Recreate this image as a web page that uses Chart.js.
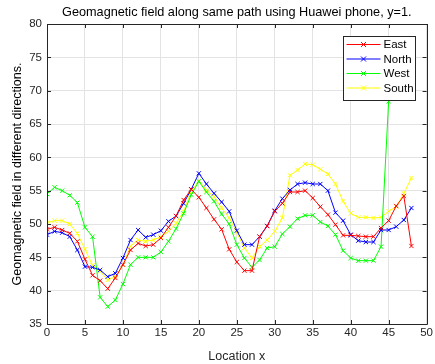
<!DOCTYPE html>
<html>
<head>
<meta charset="utf-8">
<script src="https://cdn.jsdelivr.net/npm/chart.js@4/dist/chart.umd.min.js"></script>
<style>
  html, body { margin: 0; padding: 0; background: #fff; }
  #wrap { width: 435px; height: 364px; }
</style>
</head>
<body>
<div id="wrap"><canvas id="chart" width="435" height="364"></canvas></div>
<script>
const locations = [0,1,2,3,4,5,6,7,8,9,10,11,12,13,14,15,16,17,18,19,20,21,22,23,24,25,26,27,28,29,30,31,32,33,34,35,36,37,38,39,40,41,42,43,44,45,46,47,48];

const east = [49.2,49.5,49.1,48.6,47.4,44.7,42.3,41.5,40.3,41.9,
              43.9,46.1,47.1,46.7,46.9,47.9,49.5,51.2,53.6,55.2,
              54.0,52.4,50.7,49.2,46.2,44.3,43.0,43.0,48.1,49.7,
              51.9,53.1,54.8,54.8,55.0,53.9,52.6,51.4,49.9,48.3,
              48.3,48.2,48.1,48.1,49.4,50.5,52.7,54.2,46.7];
const north = [48.4,48.9,48.7,48.1,46.1,43.6,43.5,43.1,42.1,42.6,
               44.9,47.6,49.1,48.0,48.4,49.0,50.4,51.2,53.1,55.2,
               57.6,56.0,54.6,53.3,51.9,49.0,46.9,46.9,48.1,49.7,
               52.0,53.8,55.1,56.0,56.2,56.0,56.0,55.0,51.7,50.5,
               48.4,47.5,47.3,47.3,49.1,49.1,49.6,50.6,52.4];
const west = [54.5,55.5,55.0,54.3,53.2,49.5,48.1,39.0,37.6,38.6,
              41.0,43.9,45.0,45.0,45.0,45.8,47.4,49.3,51.6,54.4,
              56.4,54.8,53.4,51.5,50.0,46.9,44.9,43.5,44.6,46.4,
              46.6,48.5,49.6,50.8,51.3,51.3,50.3,49.7,48.4,46.0,
              44.9,44.5,44.5,44.5,46.6,68.4,null,null,null];
const south = [50.2,50.5,50.5,50.0,48.6,46.2,43.8,42.9,41.6,42.1,
               43.9,46.7,47.6,47.4,47.6,48.1,48.9,50.1,51.9,54.9,
               56.5,55.1,54.1,52.4,50.9,48.7,46.4,44.9,46.6,47.6,
               48.9,50.9,57.3,58.1,59.0,58.9,58.2,57.5,56.0,53.4,
               51.6,51.0,51.0,50.9,51.0,51.9,52.6,54.6,56.9];

const seriesNames = ['East', 'North', 'West', 'South'];
const seriesColors = ['#ff0000', '#0000ff', '#00ff00', '#ffff00'];
const seriesValues = [east, north, west, south];

const xTicks = [0,5,10,15,20,25,30,35,40,45,50];
const yTicks = [35,40,45,50,55,60,65,70,75,80];

const titleText = 'Geomagnetic field along same path using Huawei phone, y=1.';

const FONT = 'Liberation Sans, Arial, Helvetica, sans-serif';
const AXIS = '#262626';

function toPoints(vals) {
    const pts = [];
    locations.forEach((x, i) => {
        if (vals[i] !== null && vals[i] !== undefined) pts.push({ x: x, y: vals[i] });
    });
    return pts;
}

// box, inner ticks, title and legend drawn MATLAB-style
const matlabBox = {
    id: 'matlabBox',
    afterDatasetsDraw(chart) {
        const c = chart.ctx;
        const a = chart.chartArea;
        const xs = chart.scales.x, ys = chart.scales.y;
        c.save();
        c.strokeStyle = AXIS;
        c.lineWidth = 1;
        c.beginPath();
        c.rect(Math.round(a.left) + 0.5, Math.round(a.top) + 0.5,
               Math.round(a.right - a.left), Math.round(a.bottom - a.top));
        c.stroke();
        c.beginPath();
        xTicks.forEach(t => {
            const px = Math.round(xs.getPixelForValue(t)) + 0.5;
            c.moveTo(px, a.bottom); c.lineTo(px, a.bottom - 4);
            c.moveTo(px, a.top); c.lineTo(px, a.top + 4);
        });
        yTicks.forEach(t => {
            const py = Math.round(ys.getPixelForValue(t)) + 0.5;
            c.moveTo(a.left, py); c.lineTo(a.left + 4, py);
            c.moveTo(a.right, py); c.lineTo(a.right - 4, py);
        });
        c.stroke();

        // title centred over the axes
        c.fillStyle = '#000';
        c.font = '12.7px ' + FONT;
        c.textAlign = 'center';
        c.textBaseline = 'middle';
        c.fillText(titleText, (a.left + a.right) / 2, a.top - 12);

        // legend
        const bw = 72, rowH = 14.5;
        const bh = rowH * seriesNames.length + 6;
        const bx = Math.round(a.right - 12 - bw) + 0.5;
        const by = Math.round(a.top + 12) + 0.5;
        c.fillStyle = '#fff';
        c.fillRect(bx, by, bw, bh);
        c.strokeStyle = AXIS;
        c.strokeRect(bx, by, bw, bh);
        c.font = '11.5px ' + FONT;
        c.textAlign = 'left';
        seriesNames.forEach((name, i) => {
            const yy = by + 8 + rowH * i;
            c.strokeStyle = seriesColors[i];
            c.lineWidth = 1;
            c.beginPath();
            c.moveTo(bx + 3, yy); c.lineTo(bx + 37, yy);
            const mx = bx + 20, r = 2.5;
            c.moveTo(mx - r, yy - r); c.lineTo(mx + r, yy + r);
            c.moveTo(mx - r, yy + r); c.lineTo(mx + r, yy - r);
            c.stroke();
            c.fillStyle = '#000';
            c.fillText(name, bx + 40, yy + 0.5);
        });
        c.restore();
    }
};

const ctx = document.getElementById('chart').getContext('2d');
const chart = new Chart(ctx, {
    type: 'line',
    data: {
        datasets: seriesNames.map((name, i) => ({
            label: name,
            data: toPoints(seriesValues[i]),
            borderColor: seriesColors[i],
            backgroundColor: seriesColors[i],
            borderWidth: 1,
            pointStyle: 'crossRot',
            pointRadius: 3,
            pointBorderWidth: 1,
            tension: 0,
            fill: false
        }))
    },
    options: {
        responsive: false,
        animation: false,
        layout: { padding: { left: 0, right: 8, top: 24, bottom: 0 } },
        plugins: {
            legend: { display: false },
            tooltip: { enabled: false },
            title: { display: false }
        },
        scales: {
            x: {
                type: 'linear',
                min: 0, max: 50,
                afterBuildTicks: s => { s.ticks = xTicks.map(v => ({ value: v })); },
                afterFit: s => { s.height = 40; },
                grid: { color: '#e3e3e3', drawTicks: false },
                border: { display: false },
                ticks: { color: AXIS, font: { family: FONT, size: 11.5 }, padding: 2 },
                title: { display: true, text: 'Location x', color: AXIS,
                         font: { family: FONT, size: 12.5 }, padding: { top: 1, bottom: 0 } }
            },
            y: {
                min: 35, max: 80,
                afterBuildTicks: s => { s.ticks = yTicks.map(v => ({ value: v })); },
                afterFit: s => { s.width = 47; },
                grid: { color: '#e3e3e3', drawTicks: false },
                border: { display: false },
                ticks: { color: AXIS, font: { family: FONT, size: 11.5 }, padding: 5 },
                title: { display: true, text: 'Geomagnetic field in different directions.', color: '#000',
                         font: { family: FONT, size: 12.5 }, padding: { top: 10, bottom: 0 } }
            }
        }
    },
    plugins: [matlabBox]
});
</script>
</body>
</html>
